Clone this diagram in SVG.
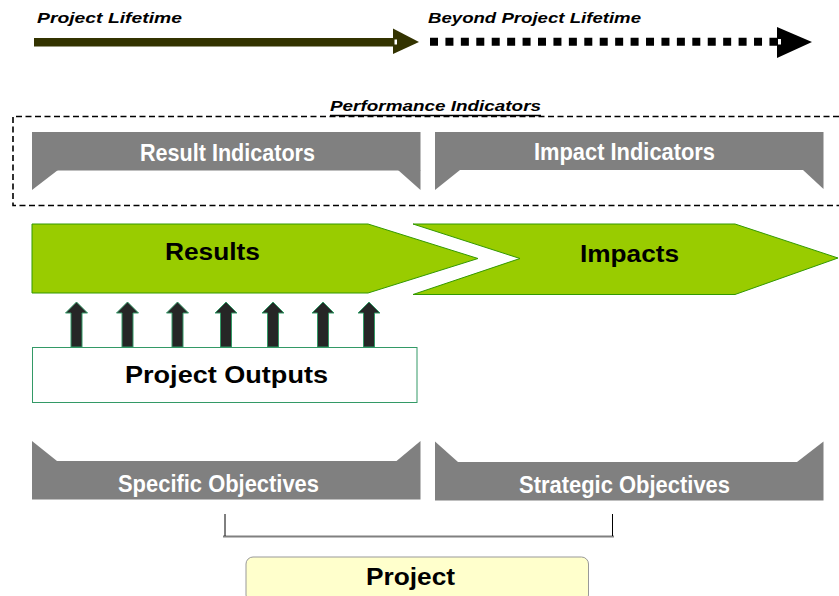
<svg xmlns="http://www.w3.org/2000/svg" width="839" height="596" viewBox="0 0 839 596">
<style>
text{font-family:"Liberation Sans",Arial,sans-serif;font-weight:bold}
.ti{font-style:italic;font-size:15px;fill:#000}
.wt{fill:#fff;font-size:23px}
.bt{fill:#000;font-size:23px}
.gray{fill:#808080}
.green{fill:#99cc00;stroke:#339900;stroke-width:1}
.up{fill:#262626;stroke:#339966;stroke-width:1}
</style>
<rect width="839" height="596" fill="#fff"/>
<g id="timeline">
<text class="ti" x="37" y="23" textLength="145" lengthAdjust="spacingAndGlyphs">Project Lifetime</text>
<text class="ti" x="428" y="23" textLength="213" lengthAdjust="spacingAndGlyphs">Beyond Project Lifetime</text>
<rect x="34" y="38" width="361" height="8.5" fill="#333300"/>
<polygon points="393,28.5 419,42 393,54" fill="#333300"/>
<rect x="394.5" y="39.5" width="2.5" height="5" fill="#fff"/>
<line x1="430" y1="41.8" x2="778" y2="41.8" stroke="#000" stroke-width="8" stroke-dasharray="8 7.43"/>
<polygon points="777,27 812,42 777,58" fill="#000"/>
<rect x="777.5" y="38.5" width="4" height="6.5" fill="#fff" stroke="#000" stroke-width="1"/>
</g>
<g id="performance-indicators">
<path d="M839,116.5 H13 V205.5 H839" fill="none" stroke="#000" stroke-width="1.6" stroke-dasharray="6 3.5"/>
<line x1="330" y1="115.5" x2="541" y2="115.5" stroke="#000" stroke-width="1.6"/>
<text class="ti" x="330" y="111" textLength="211" lengthAdjust="spacingAndGlyphs">Performance Indicators</text>
</g>
<g id="result-indicators">
<rect class="gray" x="32" y="132" width="388.5" height="38.5"/>
<polygon class="gray" points="32,170 58,170 32,190"/>
<polygon class="gray" points="398,170 420.5,170 420.5,190"/>
<text class="wt" x="140" y="161" textLength="175" lengthAdjust="spacingAndGlyphs">Result Indicators</text>
</g>
<g id="impact-indicators">
<rect class="gray" x="435" y="132" width="388.5" height="38"/>
<polygon class="gray" points="435,170 460,170 435,190"/>
<polygon class="gray" points="803,170 823.5,170 823.5,189"/>
<text class="wt" x="534" y="160" textLength="181" lengthAdjust="spacingAndGlyphs">Impact Indicators</text>
</g>
<g id="results">
<polygon class="green" points="32,224 368,224 478,258.5 368,293 32,293"/>
<text class="bt" x="165" y="260" textLength="95" lengthAdjust="spacingAndGlyphs">Results</text>
</g>
<g id="impacts">
<polygon class="green" points="413,224 735,224 838,258 735,294.5 413,294.5 520,258.5"/>
<text class="bt" x="580" y="262" textLength="99" lengthAdjust="spacingAndGlyphs">Impacts</text>
</g>
<g id="project-outputs">
<rect x="32.5" y="347.5" width="384.5" height="55" fill="#fff" stroke="#339966" stroke-width="1"/>
<text class="bt" x="125" y="383" textLength="203" lengthAdjust="spacingAndGlyphs">Project Outputs</text>
</g>
<g id="specific-objectives">
<rect class="gray" x="32" y="461" width="388.5" height="38.5"/>
<polygon class="gray" points="32,441 57,461 32,461"/>
<polygon class="gray" points="396.5,461 420.5,441 420.5,461"/>
<text class="wt" x="118" y="491.5" textLength="201" lengthAdjust="spacingAndGlyphs">Specific Objectives</text>
</g>
<g id="strategic-objectives">
<rect class="gray" x="435" y="462" width="388.5" height="38.5"/>
<polygon class="gray" points="435,441.5 458,462 435,462"/>
<polygon class="gray" points="797,462 823.5,441.5 823.5,462"/>
<text class="wt" x="519" y="493" textLength="211" lengthAdjust="spacingAndGlyphs">Strategic Objectives</text>
</g>
<g id="project">
<rect x="246" y="557" width="342.5" height="45" rx="7" fill="#ffffcc" stroke="#999999" stroke-width="1"/>
<text class="bt" x="366" y="585" textLength="89" lengthAdjust="spacingAndGlyphs">Project</text>
</g>
<g id="connectors">
<g id="output-arrows">
<polygon class="up" points="71,347 71,313 65.5,313 76.5,302 87.5,313 82,313 82,347"/>
<polygon class="up" points="122,347 122,313 116.5,313 127.5,302 138.5,313 133,313 133,347"/>
<polygon class="up" points="172,347 172,313 166.5,313 177.5,302 188.5,313 183,313 183,347"/>
<polygon class="up" points="220.5,347 220.5,313 215,313 226,302 237,313 231.5,313 231.5,347"/>
<polygon class="up" points="267.5,347 267.5,313 262,313 273,302 284,313 278.5,313 278.5,347"/>
<polygon class="up" points="317.5,347 317.5,313 312,313 323,302 334,313 328.5,313 328.5,347"/>
<polygon class="up" points="363.5,347 363.5,313 358,313 369,302 380,313 374.5,313 374.5,347"/>
</g>
<g id="bracket">
<line x1="223" y1="536.5" x2="614" y2="536.5" stroke="#808080" stroke-width="2"/>
<line x1="225" y1="514" x2="225" y2="536" stroke="#000" stroke-width="1"/>
<line x1="612.5" y1="514" x2="612.5" y2="536" stroke="#000" stroke-width="1"/>
</g>
</g>
</svg>
